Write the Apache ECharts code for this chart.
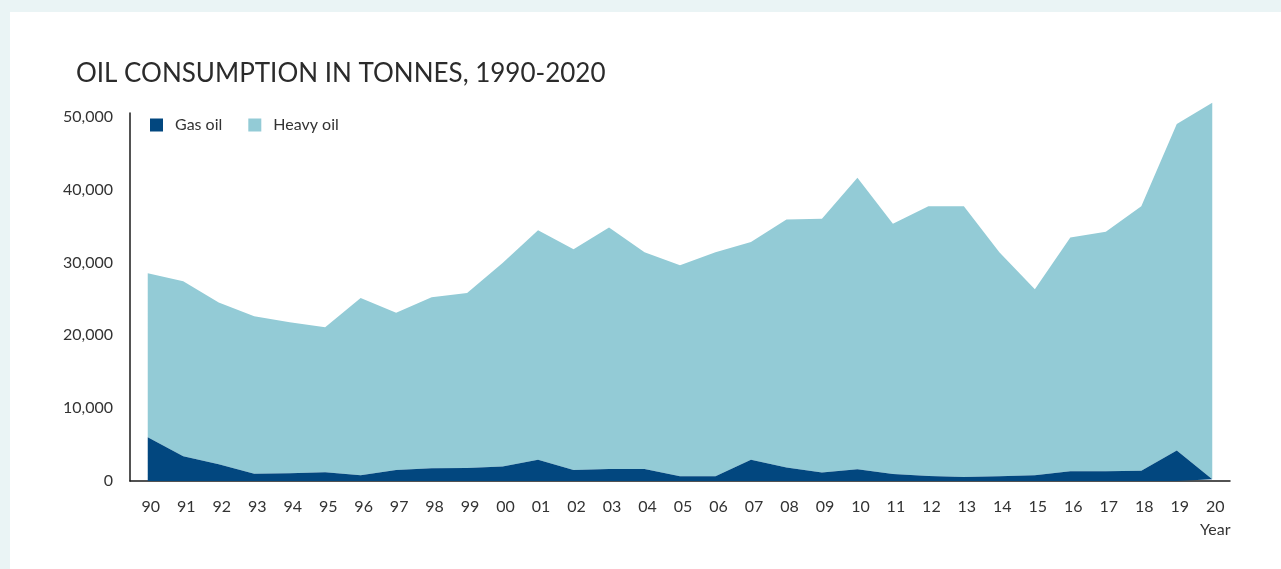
<!DOCTYPE html>
<html>
<head>
<meta charset="utf-8">
<script src="https://cdn.jsdelivr.net/npm/echarts@6/dist/echarts.min.js"></script>
<style>
  html, body { margin: 0; padding: 0; background: #eaf4f5; width: 1281px; height: 569px; overflow: hidden; }
  #card { position: absolute; left: 10px; top: 12px; width: 1271px; height: 557px; background: #ffffff; }
  #chart { width: 1271px; height: 557px; }
</style>
</head>
<body>
<div id="card"><div id="chart"></div></div>
<script>
// Years shown as two-digit labels on the category axis
const years = ['90','91','92','93','94','95','96','97','98','99','00','01','02','03','04','05',
               '06','07','08','09','10','11','12','13','14','15','16','17','18','19','20'];

// Consumption in tonnes
const gasOil = [6000, 3400, 2300, 1000, 1050, 1200, 800, 1500, 1750, 1800, 2000, 2900, 1500, 1650, 1650, 650,
                650, 2900, 1850, 1150, 1600, 950, 700, 550, 650, 800, 1350, 1350, 1400, 4200, 250];
const heavyOil = [22500, 24000, 22200, 21600, 20750, 19900, 24300, 21600, 23450, 24000, 27900, 31500, 30300, 33150, 29750, 28950,
                  30750, 29900, 34050, 34850, 40000, 34350, 37000, 37150, 30750, 25500, 32050, 32850, 36300, 44800, 51650];

const seriesNames = ['Gas oil', 'Heavy oil'];
const colors = ['#02477f', '#93cbd6'];

const FONT = 'Lato, "Noto Sans", sans-serif';
const TEXT = '#333333';

const chart = echarts.init(document.getElementById('chart'), null, { renderer: 'canvas' });

chart.setOption({
  animation: false,
  backgroundColor: '#ffffff',
  title: {
    text: 'OIL CONSUMPTION IN TONNES, 1990-2020',
    left: 61,
    top: 44,
    textStyle: { fontFamily: FONT, fontSize: 26, fontWeight: 'normal', color: '#2b2b2b' }
  },
  legend: {
    left: 135,
    top: 100,
    icon: 'rect',
    itemWidth: 13,
    itemHeight: 13,
    itemGap: 26,
    data: seriesNames,
    textStyle: { fontFamily: FONT, fontSize: 16, color: TEXT, padding: [0, 0, 0, 7] }
  },
  grid: { left: 120, right: 51, top: 101, bottom: 88, containLabel: false },
  xAxis: {
    type: 'category',
    data: years,
    boundaryGap: true,
    axisLine: { show: true, lineStyle: { color: '#1a1a1a', width: 1.5 } },
    axisTick: { show: false },
    axisLabel: { interval: 0, margin: 18, padding: [0, 0, 0, 6], fontFamily: FONT, fontSize: 16, color: TEXT },
    splitLine: { show: false }
  },
  yAxis: {
    type: 'value',
    min: 0,
    max: 50500,
    interval: 10000,
    axisLine: { show: true, lineStyle: { color: '#1a1a1a', width: 1.5 } },
    axisTick: { show: false },
    splitLine: { show: false },
    axisLabel: {
      margin: 17,
      showMaxLabel: false,
      fontFamily: FONT, fontSize: 16, color: TEXT,
      formatter: v => (v % 10000 === 0 ? v.toLocaleString('en-US') : '')
    }
  },
  graphic: [{
    type: 'text',
    left: 1190,
    top: 510,
    style: { text: 'Year', fontFamily: FONT, fontSize: 16, fill: TEXT }
  }],
  series: [
    {
      name: seriesNames[0],
      type: 'line',
      stack: 'total',
      data: gasOil,
      clip: false,
      showSymbol: false,
      symbol: 'none',
      color: colors[0],
      lineStyle: { width: 0 },
      areaStyle: { color: colors[0], opacity: 1 },
      z: 3
    },
    {
      name: seriesNames[1],
      type: 'line',
      stack: 'total',
      data: heavyOil,
      clip: false,
      showSymbol: false,
      symbol: 'none',
      color: colors[1],
      lineStyle: { width: 0 },
      areaStyle: { color: colors[1], opacity: 1 },
      z: 2
    }
  ]
});
</script>
</body>
</html>
